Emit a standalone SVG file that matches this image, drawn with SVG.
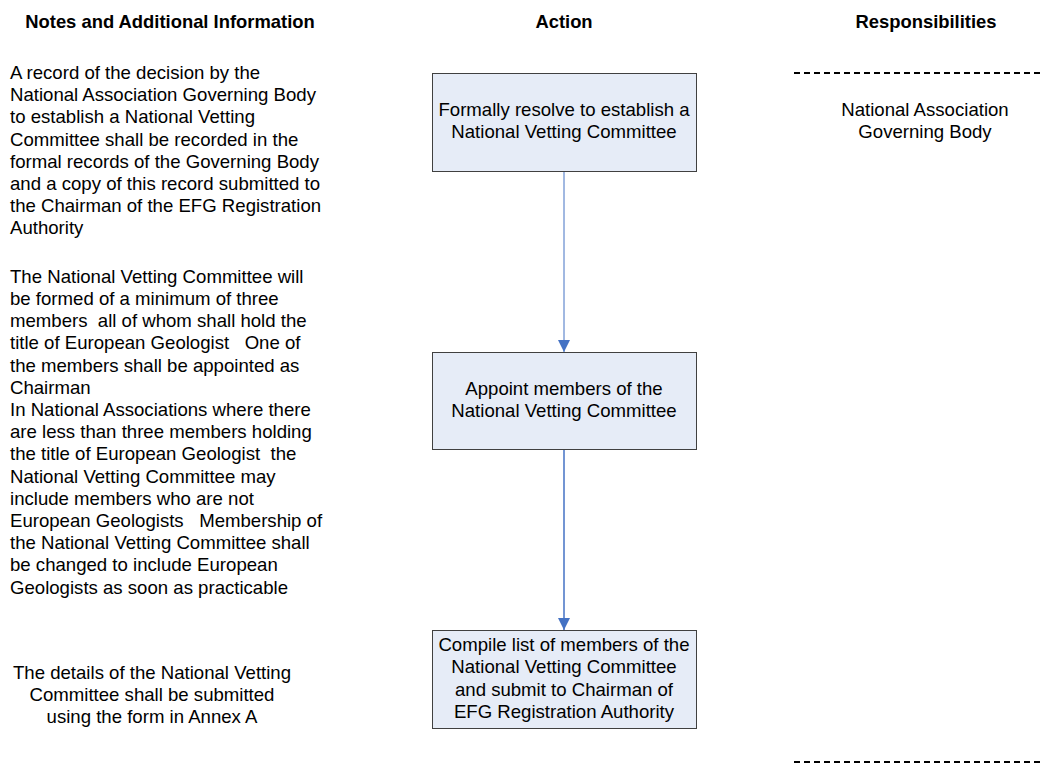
<svg xmlns="http://www.w3.org/2000/svg" width="1042" height="763" viewBox="0 0 1042 763">
<defs>
<style>
text{font-family:"Liberation Sans",Arial,sans-serif;font-size:18.6px;fill:#000;white-space:pre}
.h{font-weight:bold;font-size:18.4px}
.c{text-anchor:middle}
.box{fill:#e6ecf7;stroke:#404040;stroke-width:1}
.conn{stroke:#4472c4;fill:none}
.dash{stroke:#000;stroke-width:2;stroke-dasharray:6 4}
</style>
<marker id="ah" viewBox="0 0 12 12" refX="12" refY="6" markerWidth="12" markerHeight="12" markerUnits="userSpaceOnUse" orient="auto">
<path d="M0,0 L12,6 L0,12 Z" fill="#4472c4"/>
</marker>
</defs>
<rect width="1042" height="763" fill="#fff"/>
<g id="headers">
<text class="h c" x="170" y="28">Notes and Additional Information</text>
<text class="h c" x="564" y="28">Action</text>
<text class="h c" x="926" y="28">Responsibilities</text>
</g>
<g id="separators">
<line class="dash" x1="794" y1="73" x2="1042" y2="73"/>
<line class="dash" x1="794" y1="762" x2="1042" y2="762"/>
</g>
<g id="note1">
<text x="10" y="79">A record of the decision by the</text>
<text x="10" y="101">National Association Governing Body</text>
<text x="10" y="123">to establish a National Vetting</text>
<text x="10" y="146">Committee shall be recorded in the</text>
<text x="10" y="168">formal records of the Governing Body</text>
<text x="10" y="190">and a copy of this record submitted to</text>
<text x="10" y="212">the Chairman of the EFG Registration</text>
<text x="10" y="234">Authority</text>
</g>
<g id="note2">
<text x="10" y="283">The National Vetting Committee will</text>
<text x="10" y="305">be formed of a minimum of three</text>
<text x="10" y="327">members  all of whom shall hold the</text>
<text x="10" y="349">title of European Geologist   One of</text>
<text x="10" y="372">the members shall be appointed as</text>
<text x="10" y="394">Chairman</text>
<text x="10" y="416">In National Associations where there</text>
<text x="10" y="438">are less than three members holding</text>
<text x="10" y="460">the title of European Geologist  the</text>
<text x="10" y="483">National Vetting Committee may</text>
<text x="10" y="505">include members who are not</text>
<text x="10" y="527">European Geologists   Membership of</text>
<text x="10" y="549">the National Vetting Committee shall</text>
<text x="10" y="571">be changed to include European</text>
<text x="10" y="594">Geologists as soon as practicable</text>
</g>
<g id="note3">
<text class="c" x="152" y="679">The details of the National Vetting</text>
<text class="c" x="152" y="701">Committee shall be submitted</text>
<text class="c" x="152" y="723">using the form in Annex A</text>
</g>
<g id="connectors">
<line class="conn" x1="564" y1="171" x2="564" y2="352" stroke-width="1" marker-end="url(#ah)"/>
<line class="conn" x1="564" y1="449" x2="564" y2="630" stroke-width="1.5" marker-end="url(#ah)"/>
</g>
<g id="node1">
<rect class="box" x="432.5" y="73.5" width="264" height="98"/>
<text class="c" x="564" y="116">Formally resolve to establish a</text>
<text class="c" x="564" y="138">National Vetting Committee</text>
</g>
<g id="node2">
<rect class="box" x="432.5" y="352.5" width="264" height="97"/>
<text class="c" x="564" y="395">Appoint members of the</text>
<text class="c" x="564" y="417">National Vetting Committee</text>
</g>
<g id="node3">
<rect class="box" x="432.5" y="630.5" width="264" height="98"/>
<text class="c" x="564" y="651">Compile list of members of the</text>
<text class="c" x="564" y="673">National Vetting Committee</text>
<text class="c" x="564" y="696">and submit to Chairman of</text>
<text class="c" x="564" y="718">EFG Registration Authority</text>
</g>
<g id="resp1">
<text class="c" x="925" y="116">National Association</text>
<text class="c" x="925" y="138">Governing Body</text>
</g>
</svg>
